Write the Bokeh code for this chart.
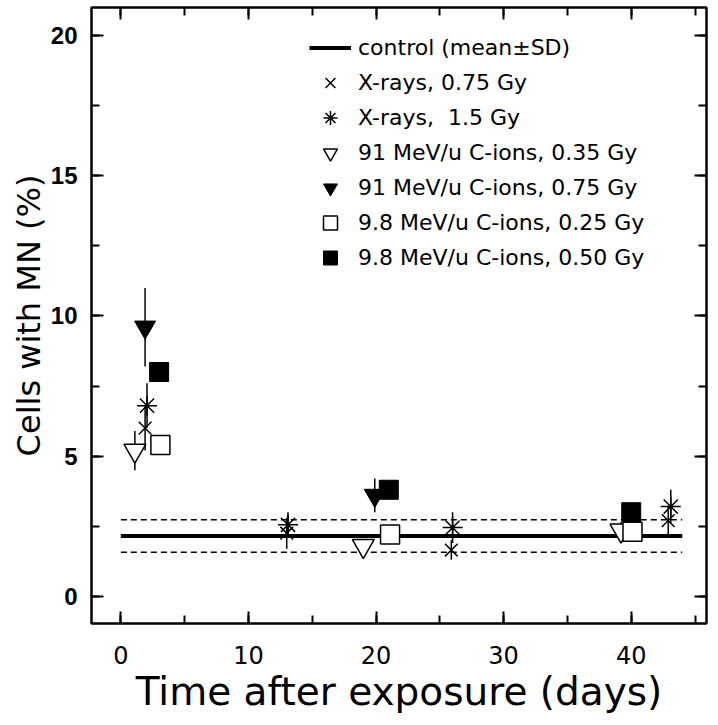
from bokeh.plotting import figure
from bokeh.models import (Range1d, LinearAxis, SingleIntervalTicker, Legend, LegendItem,
                          ColumnDataSource, CustomJSTickFormatter)
from bokeh.embed import file_html
from bokeh.resources import INLINE

# ---------------- data ----------------
control_days = [0, 44]
control_mean = 2.15
control_sd = 0.58

xray075_days = [1.9, 13.0, 25.9, 42.9]
xray075_mn = [6.0, 2.25, 1.65, 2.7]
xray075_sd = [0.8, 0.55, 0.35, 0.5]

xray15_days = [2.05, 13.1, 26.0, 43.1]
xray15_mn = [6.8, 2.55, 2.45, 3.2]
xray15_sd = [0.8, 0.45, 0.55, 0.6]

c91_035_days = [1.1, 19.0, 39.2]
c91_035_mn = [5.2, 1.8, 2.35]
c91_035_sd = [0.7, 0.15, 0.3]

c91_075_days = [1.9, 19.9]
c91_075_mn = [9.6, 3.6]
c91_075_sd = [1.4, 0.6]

c98_025_days = [3.1, 21.1, 40.1]
c98_025_mn = [5.4, 2.2, 2.3]
c98_025_sd = [0.2, 0.2, 0.2]

c98_050_days = [3.0, 21.0, 40.0]
c98_050_mn = [8.0, 3.8, 3.0]
c98_050_sd = [0.2, 0.2, 0.2]

legend_labels = ["control (mean\u00b1SD)", "X-rays, 0.75 Gy", "X-rays,  1.5 Gy",
                 "91 MeV/u C-ions, 0.35 Gy", "91 MeV/u C-ions, 0.75 Gy",
                 "9.8 MeV/u C-ions, 0.25 Gy", "9.8 MeV/u C-ions, 0.50 Gy"]

# ---------------- figure ----------------
p = figure(frame_width=615, frame_height=616, output_backend="svg", toolbar_location=None,
           x_range=Range1d(-2.3, 45.9), y_range=Range1d(-0.97, 21.0),
           min_border_left=91, min_border_right=2, min_border_top=7, min_border_bottom=93)
p.xgrid.visible = False
p.ygrid.visible = False
p.outline_line_color = "black"
p.outline_line_width = 2.5
p.background_fill_color = "white"
p.border_fill_color = "white"

p.xaxis.ticker = SingleIntervalTicker(interval=10, num_minor_ticks=2)
p.yaxis.ticker = SingleIntervalTicker(interval=5, num_minor_ticks=2)

for ax in (p.xaxis[0], p.yaxis[0]):
    ax.axis_line_color = None
    ax.major_tick_in = 12
    ax.major_tick_out = 0
    ax.minor_tick_in = 8
    ax.minor_tick_out = 0
    ax.major_tick_line_width = 2
    ax.minor_tick_line_width = 2
    ax.major_tick_line_color = "black"
    ax.minor_tick_line_color = "black"
    ax.axis_label_text_font_style = "normal"
    ax.axis_label_text_color = "black"
    ax.major_label_text_color = "black"

p.yaxis.axis_label = "Cells with MN (%)"
p.yaxis.axis_label_text_font = "DejaVu Sans"
p.yaxis.axis_label_text_font_size = "32px"
p.yaxis.axis_label_standoff = 0
p.yaxis.major_label_text_font = "Liberation Sans"
p.yaxis.major_label_text_font_style = "bold"
p.yaxis.major_label_text_font_size = "24px"
p.yaxis.major_label_standoff = 14

p.xaxis.axis_label = "Time after exposure (days)"
p.xaxis.axis_label_text_font = "DejaVu Sans"
p.xaxis.axis_label_text_font_size = "39px"
p.xaxis.axis_label_standoff = 2
p.xaxis.major_label_text_font = "DejaVu Sans"
p.xaxis.major_label_text_font_size = "24px"
p.xaxis.major_label_standoff = 22

# mirror axes (ticks only, no labels)
for loc, interval in (("right", 5), ("above", 10)):
    ax = LinearAxis(ticker=SingleIntervalTicker(interval=interval, num_minor_ticks=2),
                    formatter=CustomJSTickFormatter(code="return ''"))
    ax.axis_line_color = None
    ax.major_tick_in = 12
    ax.major_tick_out = 0
    ax.minor_tick_in = 8
    ax.minor_tick_out = 0
    ax.major_tick_line_width = 2
    ax.minor_tick_line_width = 2
    ax.major_label_standoff = 0
    p.add_layout(ax, loc)

# ---------------- control band ----------------
ctrl = p.line(control_days, [control_mean] * 2, line_color="black", line_width=4)
p.line(control_days, [control_mean + control_sd] * 2, line_color="black", line_width=1.5,
       line_dash="6 4")
p.line(control_days, [control_mean - control_sd] * 2, line_color="black", line_width=1.5,
       line_dash="6 4")

series = [
    (xray075_days, xray075_mn, xray075_sd, dict(marker="x", size=18, line_color="black", line_width=1.5)),
    (xray15_days, xray15_mn, xray15_sd, dict(marker="asterisk", size=20, line_color="black", line_width=1.5)),
    (c91_035_days, c91_035_mn, c91_035_sd, dict(marker="inverted_triangle", size=22, line_color="black",
                                                 fill_color="white", line_width=1.5)),
    (c91_075_days, c91_075_mn, c91_075_sd, dict(marker="inverted_triangle", size=21, line_color="black",
                                                 fill_color="black", line_width=1)),
    (c98_025_days, c98_025_mn, c98_025_sd, dict(marker="square", size=19, line_color="black",
                                                 fill_color="white", line_width=1.5)),
    (c98_050_days, c98_050_mn, c98_050_sd, dict(marker="square", size=19, line_color="black",
                                                 fill_color="black", line_width=1)),
]

for d, m, s, _ in series:
    src = ColumnDataSource(dict(x=d, lo=[a - b for a, b in zip(m, s)], hi=[a + b for a, b in zip(m, s)]))
    p.segment(x0="x", y0="lo", x1="x", y1="hi", source=src, line_color="black", line_width=1.5)

renderers = [ctrl]
for d, m, s, style in series:
    renderers.append(p.scatter(d, m, **style))

# ---------------- legend ----------------
legend = Legend(items=[LegendItem(label=lab, renderers=[r]) for lab, r in zip(legend_labels, renderers)],
                location=(218, 348))
legend.glyph_width = 42
legend.glyph_height = 35
legend.label_height = 35
legend.spacing = 0
legend.padding = 0
legend.margin = 0
legend.label_standoff = 7
legend.border_line_color = None
legend.background_fill_alpha = 0
legend.label_text_font = "DejaVu Sans"
legend.label_text_font_size = "22px"
legend.label_text_color = "black"
p.add_layout(legend)

open("out.html", "w").write(file_html(p, INLINE))
